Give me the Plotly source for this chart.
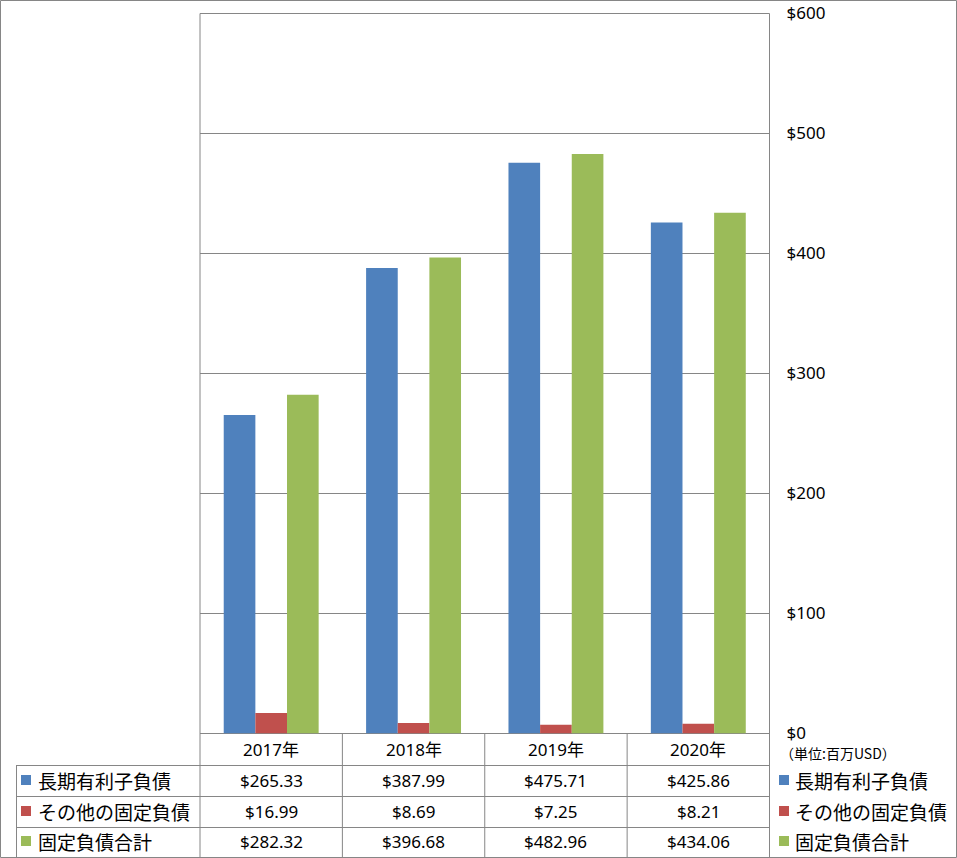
import plotly.graph_objects as go

categories = ["2017年", "2018年", "2019年", "2020年"]
series_names = ["長期有利子負債", "その他の固定負債", "固定負債合計"]
long_term_debt = [265.33, 387.99, 475.71, 425.86]
other_fixed = [16.99, 8.69, 7.25, 8.21]
total_fixed = [282.32, 396.68, 482.96, 434.06]
series_values = [long_term_debt, other_fixed, total_fixed]
colors = ["#4F81BD", "#C0504D", "#9BBB59"]
unit_label = "（単位:百万USD）"

W, H = 957, 858
def px(x):
    return x / W
def py(y):
    return 1 - y / H

GRID = "#868686"
NUMFONT = "Noto Sans, Noto Sans CJK JP"
JPFONT = "Noto Sans CJK JP"

fig = go.Figure()
for name, vals, col in zip(series_names, series_values, colors):
    fig.add_trace(go.Bar(x=categories, y=vals, name=name, marker_color=col,
                         marker_line_width=0, hoverinfo="skip"))

shapes = []
annotations = []

shapes.append(dict(type="rect", xref="paper", yref="paper", x0=px(0.5), x1=px(956.5),
                   y0=py(857.5), y1=py(0.5), line=dict(color=GRID, width=1)))
shapes.append(dict(type="line", xref="paper", yref="paper", x0=px(200), x1=px(769.5),
                   y0=py(13.5), y1=py(13.5), line=dict(color=GRID, width=1)))
for xv in [200, 769.5]:
    shapes.append(dict(type="line", xref="paper", yref="paper", x0=px(xv), x1=px(xv),
                       y0=py(13.5), y1=py(857), line=dict(color=GRID, width=1)))
n = len(categories)
for i in range(1, n):
    shapes.append(dict(type="line", xref="x", yref="paper", x0=i - 0.5, x1=i - 0.5,
                       y0=py(733), y1=py(857), line=dict(color=GRID, width=1)))
shapes.append(dict(type="line", xref="paper", yref="paper", x0=px(16.5), x1=px(16.5),
                   y0=py(765), y1=py(857), line=dict(color=GRID, width=1)))
row_lines = [765.5, 796.5, 827.5]
for yv in row_lines:
    shapes.append(dict(type="line", xref="paper", yref="paper", x0=px(16.5), x1=px(769.5),
                       y0=py(yv), y1=py(yv), line=dict(color=GRID, width=1)))

for c in categories:
    annotations.append(dict(x=c, xref="x", y=py(749), yref="paper", text=c,
                            showarrow=False, font=dict(family=NUMFONT, size=17, color="#000"),
                            xanchor="center", yanchor="middle"))

row_centers = [780, 811, 841]
for r, (name, vals, col) in enumerate(zip(series_names, series_values, colors)):
    yc = row_centers[r]
    for c, v in zip(categories, vals):
        annotations.append(dict(x=c, xref="x", y=py(yc), yref="paper", text=f"${v:,.2f}",
                                showarrow=False, font=dict(family=NUMFONT, size=17, color="#000"),
                                xanchor="center", yanchor="middle"))
    shapes.append(dict(type="rect", xref="paper", yref="paper", x0=px(21), x1=px(31),
                       y0=py(yc + 5), y1=py(yc - 5), fillcolor=col, line=dict(width=0)))
    annotations.append(dict(x=px(36), xref="paper", y=py(yc), yref="paper", text=name,
                            showarrow=False, font=dict(family=JPFONT, size=19, color="#000"),
                            xanchor="left", yanchor="middle"))
    shapes.append(dict(type="rect", xref="paper", yref="paper", x0=px(779), x1=px(789),
                       y0=py(yc + 5), y1=py(yc - 5), fillcolor=col, line=dict(width=0)))
    annotations.append(dict(x=px(793), xref="paper", y=py(yc), yref="paper", text=name,
                            showarrow=False, font=dict(family=JPFONT, size=19, color="#000"),
                            xanchor="left", yanchor="middle"))

annotations.append(dict(x=px(778), xref="paper", y=py(753), yref="paper", text=unit_label,
                        showarrow=False, font=dict(family=JPFONT, size=14, color="#000"),
                        xanchor="left", yanchor="middle"))

fig.update_layout(
    template="none",
    width=W, height=H,
    margin=dict(l=0, r=0, t=0, b=0, pad=0),
    paper_bgcolor="white", plot_bgcolor="white",
    showlegend=False,
    barmode="group", bargap=1/3, bargroupgap=0,
    xaxis=dict(domain=[px(200), px(769.5)], showticklabels=False, ticks="",
               showgrid=False, zeroline=False, showline=False, automargin=False),
    yaxis=dict(domain=[py(733.5), py(13.5)], side="right", range=[0, 600], dtick=100,
               tickprefix="$", showgrid=True, gridcolor=GRID, gridwidth=1,
               zeroline=True, zerolinecolor=GRID, zerolinewidth=1, automargin=False,
               showline=False, ticks="", ticklabelstandoff=16,
               tickfont=dict(family=NUMFONT, size=17, color="#000")),
    shapes=shapes, annotations=annotations,
)

fig.write_html("out.html", config={"displayModeBar": False},
               post_script="document.body.style.margin='0';document.body.style.overflow='hidden';")
